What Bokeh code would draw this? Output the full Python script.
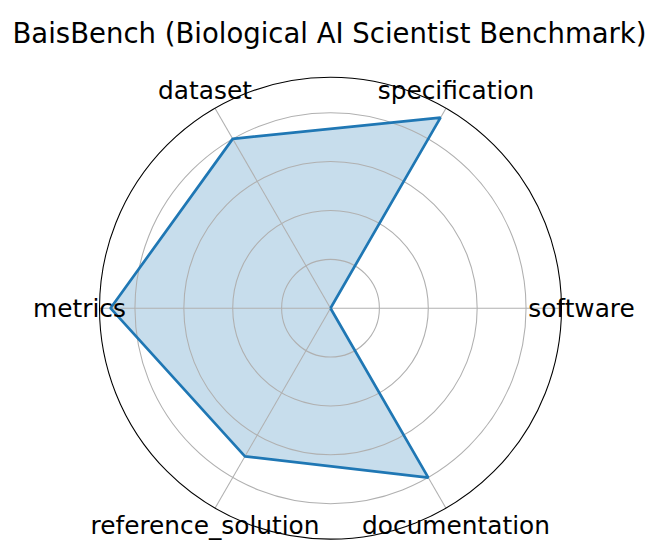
import numpy as np
from bokeh.plotting import figure
from bokeh.models import Range1d, ColumnDataSource
from bokeh.core.properties import value
from bokeh.embed import file_html
from bokeh.resources import INLINE

# ---- data ----
categories = ["software", "specification", "dataset", "metrics", "reference_solution", "documentation"]
scores = [0.0, 0.9, 0.8, 0.9, 0.7, 0.8]
grid_levels = [0.2, 0.4, 0.6, 0.8]
title_text = "BaisBench (Biological AI Scientist Benchmark)"

# ---- geometry (matplotlib-like autoscale: max + 5% margin) ----
r_max = max(scores) * 1.05
W, H = 660, 549
k = 231.0 / r_max            # pixels per data unit
cx_px, cy_px = 330.0, 307.7  # center of polar area in pixels
x0 = -cx_px / k
x1 = (W - cx_px) / k
y1 = cy_px / k
y0 = -(H - cy_px) / k

n = len(categories)
angles = np.arange(n) * 2 * np.pi / n

p = figure(width=W, height=H, x_range=Range1d(x0, x1), y_range=Range1d(y0, y1),
           x_axis_type=None, y_axis_type=None, toolbar_location=None,
           output_backend="svg", min_border=0, outline_line_color=None)
p.grid.visible = False
p.background_fill_color = "white"

# data polygon (closed)
xs = [s * np.cos(a) for s, a in zip(scores, angles)]
ys = [s * np.sin(a) for s, a in zip(scores, angles)]
xs_c = xs + [xs[0]]
ys_c = ys + [ys[0]]

p.patch(xs_c, ys_c, fill_color="#1f77b4", fill_alpha=0.25, line_color=None)

# grid circles
p.circle(x=[0] * len(grid_levels), y=[0] * len(grid_levels), radius=grid_levels,
         fill_color=None, line_color="#b0b0b0", line_width=1.07)
# spokes
p.segment(x0=[0] * n, y0=[0] * n,
          x1=list(r_max * np.cos(angles)), y1=list(r_max * np.sin(angles)),
          line_color="#b0b0b0", line_width=1.07)
# outer circle
p.circle(x=[0], y=[0], radius=[r_max], fill_color=None, line_color="black", line_width=1.07)

# data line
p.line(xs_c, ys_c, line_color="#1f77b4", line_width=2.7)

# category labels
r_lab = r_max + 20.0 / k
lab_src = ColumnDataSource(dict(x=list(r_lab * np.cos(angles)), y=list(r_lab * np.sin(angles)),
                                t=categories))
p.text(x="x", y="y", text="t", source=lab_src, text_align="center", text_baseline="middle",
       text_font=value("DejaVu Sans"), text_font_size="24.8px", text_color="black")

# title
p.text(x=[(W / 2 - 1 - cx_px) / k], y=[(cy_px - 32.3) / k], text=[title_text],
       text_align="center", text_baseline="alphabetic",
       text_font=value("DejaVu Sans"), text_font_size="27.5px", text_color="black")

open("out.html", "w").write(file_html(p, INLINE))
